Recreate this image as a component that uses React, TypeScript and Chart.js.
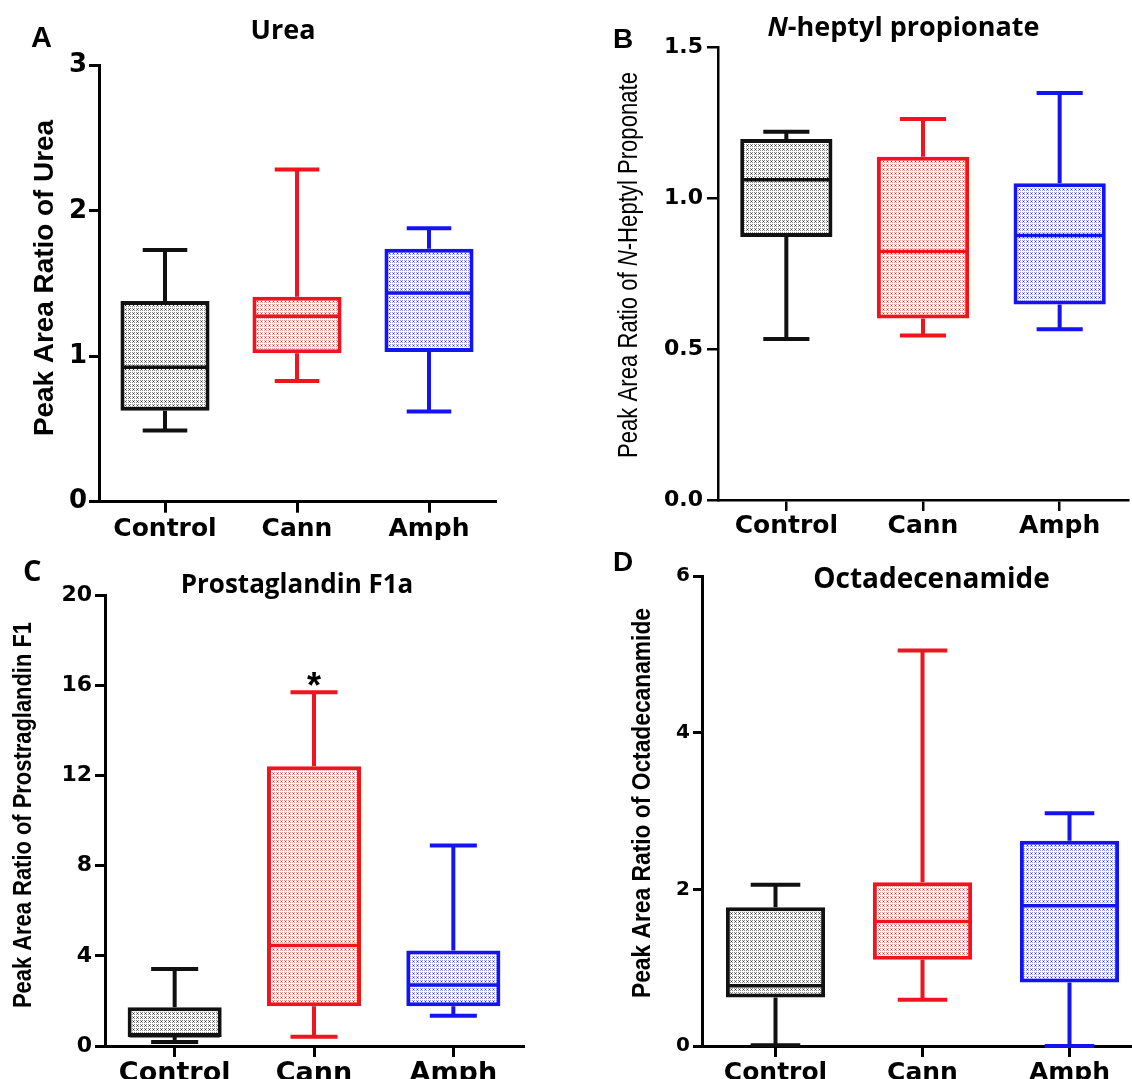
import React, { useEffect, useRef } from 'react';
import { Chart, registerables } from 'chart.js';

Chart.register(...registerables);

// ---------- data ----------
const categories = ['Control', 'Cann', 'Amph'];
const groupColors = ['#111111', '#f0141e', '#1414f0'];

// A – Urea
const ureaMin = [0.49, 0.83, 0.62];
const ureaQ1 = [0.625, 1.02, 1.03];
const ureaMedian = [0.925, 1.275, 1.435];
const ureaQ3 = [1.38, 1.41, 1.74];
const ureaMax = [1.73, 2.285, 1.88];
const ureaTicks = [0, 1, 2, 3];

// B – N-heptyl propionate
const heptylMin = [0.534, 0.545, 0.566];
const heptylQ1 = [0.872, 0.602, 0.648];
const heptylMedian = [1.062, 0.824, 0.877];
const heptylQ3 = [1.197, 1.138, 1.05];
const heptylMax = [1.221, 1.263, 1.349];
const heptylTicks = [0, 0.5, 1.0, 1.5];

// C – Prostaglandin F1a
const prostaMin = [0.18, 0.41, 1.34];
const prostaQ1 = [0.4, 1.76, 1.76];
const prostaMedian = [0.45, 4.46, 2.7];
const prostaQ3 = [1.72, 12.41, 4.24];
const prostaMax = [3.41, 15.69, 8.89];
const prostaTicks = [0, 4, 8, 12, 16, 20];
const prostaMarks = ['', '*', ''];

// D – Octadecenamide
const octaMin = [0.01, 0.59, 0.0];
const octaQ1 = [0.62, 1.1, 0.81];
const octaMedian = [0.77, 1.59, 1.79];
const octaQ3 = [1.77, 2.09, 2.62];
const octaMax = [2.06, 5.05, 2.97];
const octaTicks = [0, 2, 4, 6];

type Seg = { text: string; italic?: boolean };

interface Spec {
  left: number; top: number; width: number; height: number;
  area: { left: number; right: number; top: number; bottom: number };
  letter: string; letterFont: string; letterX: number; letterY: number;
  title: Seg[]; titleFamily: string; titleSize: number; titleX: number; titleY: number;
  yTitle: Seg[]; yTitleFamily: string; yTitleSize: number; yTitleWeight: string;
  yTitleX: number; yTitleY: number; yTitleLen: number;
  mins: number[]; q1: number[]; med: number[]; q3: number[]; maxs: number[];
  ticks: number[]; decimals: number; marks?: string[];
  tickFamily: string; tickSize: number; yTickLen: number; yTickPad: number;
  xSize: number; xTickLen: number; xTickPad: number; axisW: number;
}

const panels: Spec[] = [
  {
    left: 0, top: 0, width: 566, height: 540,
    area: { left: 99, right: 495, top: 65.4, bottom: 501.7 },
    letter: 'A', letterFont: 'bold 29px "Liberation Sans"', letterX: 31, letterY: 46.5,
    title: [{ text: 'Urea' }], titleFamily: '"Open Sans"', titleSize: 27, titleX: 283, titleY: 38.6,
    yTitle: [{ text: 'Peak Area Ratio of Urea' }], yTitleFamily: '"Liberation Sans"', yTitleSize: 27, yTitleWeight: 'bold',
    yTitleX: 46, yTitleY: 278, yTitleLen: 316,
    mins: ureaMin, q1: ureaQ1, med: ureaMedian, q3: ureaQ3, maxs: ureaMax,
    ticks: ureaTicks, decimals: 0,
    tickFamily: '"DejaVu Sans"', tickSize: 26, yTickLen: 10, yTickPad: 2,
    xSize: 25, xTickLen: 11, xTickPad: 2, axisW: 3,
  },
  {
    left: 566, top: 0, width: 566, height: 540,
    area: { left: 152, right: 562, top: 47.5, bottom: 500 },
    letter: 'B', letterFont: 'bold 28px "Liberation Sans"', letterX: 47, letterY: 48,
    title: [{ text: 'N', italic: true }, { text: '-heptyl propionate' }], titleFamily: '"Open Sans"', titleSize: 27, titleX: 337.5, titleY: 36,
    yTitle: [{ text: 'Peak Area Ratio of ' }, { text: 'N', italic: true }, { text: '-Heptyl Proponate' }],
    yTitleFamily: '"Liberation Sans"', yTitleSize: 27, yTitleWeight: 'normal',
    yTitleX: 63.5, yTitleY: 265, yTitleLen: 386,
    mins: heptylMin, q1: heptylQ1, med: heptylMedian, q3: heptylQ3, maxs: heptylMax,
    ticks: heptylTicks, decimals: 1,
    tickFamily: '"DejaVu Sans"', tickSize: 22, yTickLen: 11, yTickPad: 4,
    xSize: 25, xTickLen: 11, xTickPad: 0, axisW: 2.5,
  },
  {
    left: 0, top: 540, width: 566, height: 539,
    area: { left: 105, right: 523, top: 55, bottom: 506 },
    letter: 'C', letterFont: 'bold 29px "Open Sans"', letterX: 23, letterY: 41,
    title: [{ text: 'Prostaglandin F1a' }], titleFamily: '"Open Sans"', titleSize: 26, titleX: 297, titleY: 53.4,
    yTitle: [{ text: 'Peak Area Ratio of Prostraglandin F1' }], yTitleFamily: '"Liberation Sans"', yTitleSize: 25, yTitleWeight: 'bold',
    yTitleX: 24, yTitleY: 275, yTitleLen: 386,
    mins: prostaMin, q1: prostaQ1, med: prostaMedian, q3: prostaQ3, maxs: prostaMax,
    ticks: prostaTicks, decimals: 0, marks: prostaMarks,
    tickFamily: '"DejaVu Sans"', tickSize: 22, yTickLen: 10, yTickPad: 3,
    xSize: 27, xTickLen: 11, xTickPad: 1, axisW: 3,
  },
  {
    left: 566, top: 540, width: 640, height: 539,
    area: { left: 136, right: 577, top: 36, bottom: 506 },
    letter: 'D', letterFont: 'bold 28px "Liberation Sans"', letterX: 47, letterY: 31,
    title: [{ text: 'Octadecenamide' }], titleFamily: '"Open Sans"', titleSize: 28, titleX: 365.5, titleY: 48,
    yTitle: [{ text: 'Peak Area Ratio of Octadecanamide' }], yTitleFamily: '"Liberation Sans"', yTitleSize: 25, yTitleWeight: 'bold',
    yTitleX: 77, yTitleY: 263, yTitleLen: 390,
    mins: octaMin, q1: octaQ1, med: octaMedian, q3: octaQ3, maxs: octaMax,
    ticks: octaTicks, decimals: 0,
    tickFamily: '"DejaVu Sans"', tickSize: 20, yTickLen: 9, yTickPad: 3,
    xSize: 25, xTickLen: 11, xTickPad: 1, axisW: 3,
  },
];

const patternDots = [
  { light: '#8c8c8c', strong: '#2a2a2a' },
  { light: '#f29a9a', strong: '#d81a1a' },
  { light: '#9a9af2', strong: '#1a1ad8' },
];

function makePattern(ctx: CanvasRenderingContext2D, light: string, strong: string) {
  const tile = document.createElement('canvas');
  tile.width = 4;
  tile.height = 4;
  const t = tile.getContext('2d')!;
  t.fillStyle = '#ffffff';
  t.fillRect(0, 0, 4, 4);
  t.fillStyle = light;
  t.fillRect(0, 0, 1, 1);
  t.fillRect(2, 0, 1, 1);
  t.fillRect(0, 2, 1, 1);
  t.fillRect(2, 2, 1, 1);
  t.fillStyle = strong;
  t.fillRect(1, 1, 1, 1);
  return ctx.createPattern(tile, 'repeat')!;
}

function drawRich(
  ctx: CanvasRenderingContext2D, segs: Seg[], font: (italic: boolean) => string,
  cx: number, cy: number, rotate: boolean, baseline: CanvasTextBaseline, targetLen?: number,
) {
  ctx.save();
  let total = 0;
  const widths = segs.map((s) => {
    ctx.font = font(!!s.italic);
    const w = ctx.measureText(s.text).width;
    total += w;
    return w;
  });
  const sx = targetLen ? targetLen / total : 1;
  ctx.translate(cx, cy);
  if (rotate) ctx.rotate(-Math.PI / 2);
  ctx.scale(sx, 1);
  ctx.textBaseline = baseline;
  ctx.textAlign = 'left';
  ctx.fillStyle = '#000';
  let x = -total / 2;
  segs.forEach((s, i) => {
    ctx.font = font(!!s.italic);
    ctx.fillText(s.text, x, 0);
    x += widths[i];
  });
  ctx.restore();
}

function Panel({ spec }: { spec: Spec }) {
  const ref = useRef<HTMLCanvasElement>(null);
  useEffect(() => {
    const canvas = ref.current!;
    const ctx = canvas.getContext('2d')!;
    const patterns = patternDots.map((p) => makePattern(ctx, p.light, p.strong));
    const lw = 4;

    const overlay = {
      id: 'boxOverlay',
      beforeDatasetsDraw(chart: any) {
        const c = chart.ctx as CanvasRenderingContext2D;
        const y = chart.scales.y;
        const meta = chart.getDatasetMeta(0);
        c.save();
        c.lineWidth = lw;
        c.lineCap = 'butt';
        categories.forEach((_, i) => {
          const el = meta.data[i];
          const x = el.x;
          const cap = el.width * 0.5;
          c.strokeStyle = groupColors[i];
          c.beginPath();
          c.moveTo(x, y.getPixelForValue(spec.q3[i]));
          c.lineTo(x, y.getPixelForValue(spec.maxs[i]));
          c.moveTo(x, y.getPixelForValue(spec.q1[i]));
          c.lineTo(x, y.getPixelForValue(spec.mins[i]));
          c.moveTo(x - cap / 2, y.getPixelForValue(spec.maxs[i]));
          c.lineTo(x + cap / 2, y.getPixelForValue(spec.maxs[i]));
          c.moveTo(x - cap / 2, y.getPixelForValue(spec.mins[i]));
          c.lineTo(x + cap / 2, y.getPixelForValue(spec.mins[i]));
          c.stroke();
        });
        c.restore();
      },
      afterDatasetsDraw(chart: any) {
        const c = chart.ctx as CanvasRenderingContext2D;
        const y = chart.scales.y;
        const meta = chart.getDatasetMeta(0);
        c.save();
        categories.forEach((_, i) => {
          const el = meta.data[i];
          const x = el.x;
          const w = el.width;
          c.strokeStyle = groupColors[i];
          c.lineWidth = 3.5;
          const my = y.getPixelForValue(spec.med[i]);
          c.beginPath();
          c.moveTo(x - w / 2 + 2, my);
          c.lineTo(x + w / 2 - 2, my);
          c.stroke();
          const mark = spec.marks ? spec.marks[i] : '';
          if (mark) {
            c.fillStyle = '#000';
            c.font = 'bold 36px "Liberation Sans"';
            c.textAlign = 'center';
            c.textBaseline = 'alphabetic';
            c.fillText(mark, x, y.getPixelForValue(spec.maxs[i]) - 14 + 20);
          }
        });
        c.restore();
      },
      afterDraw(chart: any) {
        const c = chart.ctx as CanvasRenderingContext2D;
        c.save();
        c.fillStyle = '#000';
        c.font = spec.letterFont;
        c.textAlign = 'left';
        c.textBaseline = 'alphabetic';
        c.fillText(spec.letter, spec.letterX, spec.letterY);
        c.restore();
        drawRich(c, spec.title,
          (it) => `${it ? 'italic ' : ''}bold ${spec.titleSize}px ${spec.titleFamily}`,
          spec.titleX, spec.titleY, false, 'alphabetic');
        drawRich(c, spec.yTitle,
          (it) => `${it ? 'italic ' : ''}${spec.yTitleWeight} ${spec.yTitleSize}px ${spec.yTitleFamily}`,
          spec.yTitleX, spec.yTitleY, true, 'middle', spec.yTitleLen);
      },
    };

    const chart = new Chart(canvas, {
      type: 'bar',
      data: {
        labels: categories,
        datasets: [
          {
            data: categories.map((_, i) => [spec.q1[i], spec.q3[i]]) as any,
            backgroundColor: patterns as any,
            borderColor: groupColors,
            borderWidth: lw,
            borderSkipped: false,
            barPercentage: 0.675,
            categoryPercentage: 1,
          },
        ],
      },
      options: {
        responsive: false,
        animation: false,
        events: [],
        layout: {
          padding: { left: 0, top: spec.area.top, right: spec.width - spec.area.right, bottom: 0 },
        },
        plugins: { legend: { display: false }, tooltip: { enabled: false }, title: { display: false } },
        scales: {
          x: {
            type: 'category',
            offset: true,
            afterFit: (s: any) => { s.height = spec.height - spec.area.bottom; },
            grid: {
              offset: false, drawOnChartArea: false, drawTicks: true,
              tickLength: spec.xTickLen, tickColor: '#000', tickWidth: spec.axisW,
              color: '#000', lineWidth: spec.axisW,
            },
            border: { display: true, color: '#000', width: spec.axisW },
            ticks: {
              color: '#000', padding: spec.xTickPad, maxRotation: 0, autoSkip: false,
              font: { family: 'DejaVu Sans', weight: 'bold', size: spec.xSize },
            },
          },
          y: {
            type: 'linear',
            min: spec.ticks[0],
            max: spec.ticks[spec.ticks.length - 1],
            afterFit: (s: any) => { s.width = spec.area.left; },
            afterBuildTicks: (s: any) => { s.ticks = spec.ticks.map((v) => ({ value: v })); },
            grid: {
              drawOnChartArea: false, drawTicks: true,
              tickLength: spec.yTickLen, tickColor: '#000', tickWidth: spec.axisW,
              color: '#000', lineWidth: spec.axisW,
            },
            border: { display: true, color: '#000', width: spec.axisW },
            ticks: {
              color: '#000', padding: spec.yTickPad,
              font: { family: spec.tickFamily.replace(/"/g, ''), weight: 'bold', size: spec.tickSize },
              callback: (v: any) => Number(v).toFixed(spec.decimals),
            },
          },
        },
      } as any,
      plugins: [overlay],
    });
    return () => chart.destroy();
  }, [spec]);

  return (
    <canvas
      ref={ref}
      width={spec.width}
      height={spec.height}
      style={{ position: 'absolute', left: spec.left, top: spec.top, width: spec.width, height: spec.height }}
    />
  );
}

export default function App() {
  return (
    <div
      style={{
        position: 'absolute', left: 0, top: 0, width: 1132, height: 1079,
        overflow: 'hidden', background: '#ffffff',
      }}
    >
      {panels.map((p) => (
        <Panel key={p.letter} spec={p} />
      ))}
    </div>
  );
}
